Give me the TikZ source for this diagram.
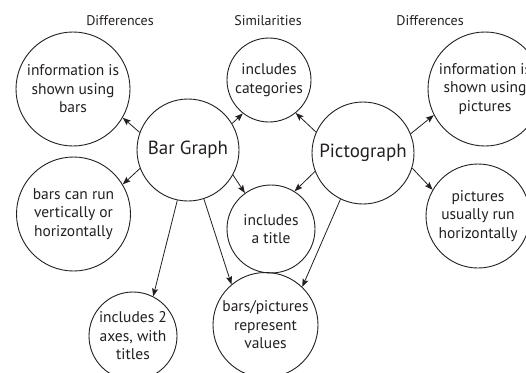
\documentclass[tikz,border=0pt]{standalone}
\usepackage{fontspec}
\setmainfont{PT Sans}
\usetikzlibrary{arrows.meta}
\definecolor{ink}{HTML}{231F20}
\begin{document}
\begin{tikzpicture}[x=1pt,y=-1pt,
  bubble/.style={circle,draw=ink,line width=0.9pt,inner sep=0pt,text=ink,align=center,font=\fontsize{15.5}{18.5}\selectfont},
  hub/.style={bubble,font=\fontsize{19}{22}\selectfont},
  heading/.style={text=ink,font=\fontsize{14}{16}\selectfont,inner sep=0pt},
  link/.style={draw=ink,line width=0.8pt,-{Stealth[length=8pt,width=6pt,inset=1.5pt]}}]
\useasboundingbox (0,0) rectangle (526,372);
\node[heading] (h1) at (120,21) {Differences};
\node[heading] (h2) at (268,21) {Similarities};
\node[heading] (h3) at (430,21) {Differences};
\node[hub,minimum size=102pt] (bar) at (188,150) {Bar Graph};
\node[hub,minimum size=102pt] (pic) at (363,153) {Pictograph};
\node[bubble,minimum size=114pt] (ib) at (73,89) {information is\\shown using\\bars};
\node[bubble,minimum size=114pt] (br) at (73.5,214) {bars can run\\vertically or\\horizontally};
\node[bubble,minimum size=84pt] (cat) at (269,80) {includes\\categories};
\node[bubble,minimum size=88pt] (tit) at (271,229) {includes\\a title};
\node[bubble,minimum size=88pt] (ax) at (133,336) {includes 2\\axes, with\\titles};
\node[bubble,minimum size=105pt] (val) at (265.5,325) {bars/pictures\\represent\\values};
\node[bubble,minimum size=114pt] (ip) at (485,89) {information is\\shown using\\pictures};
\node[bubble,minimum size=104pt] (pr) at (478,216) {pictures\\usually run\\horizontally};
\draw[link] (bar.160) -- (ib.-30);
\draw[link] (bar.-159) -- (br.31);
\draw[link] (bar.31) -- (cat.-128);
\draw[link] (bar.-29) -- (tit.126);
\draw[link] (bar.-102) -- (ax.63);
\draw[link] (bar.-72) -- (val.130);
\draw[link] (pic.156) -- (cat.-51);
\draw[link] (pic.-159) -- (tit.58);
\draw[link] (pic.22) -- (ip.-153);
\draw[link] (pic.-17) -- (pr.150);
\draw[link] (pic.-116) -- (val.46);
\end{tikzpicture}
\end{document}
